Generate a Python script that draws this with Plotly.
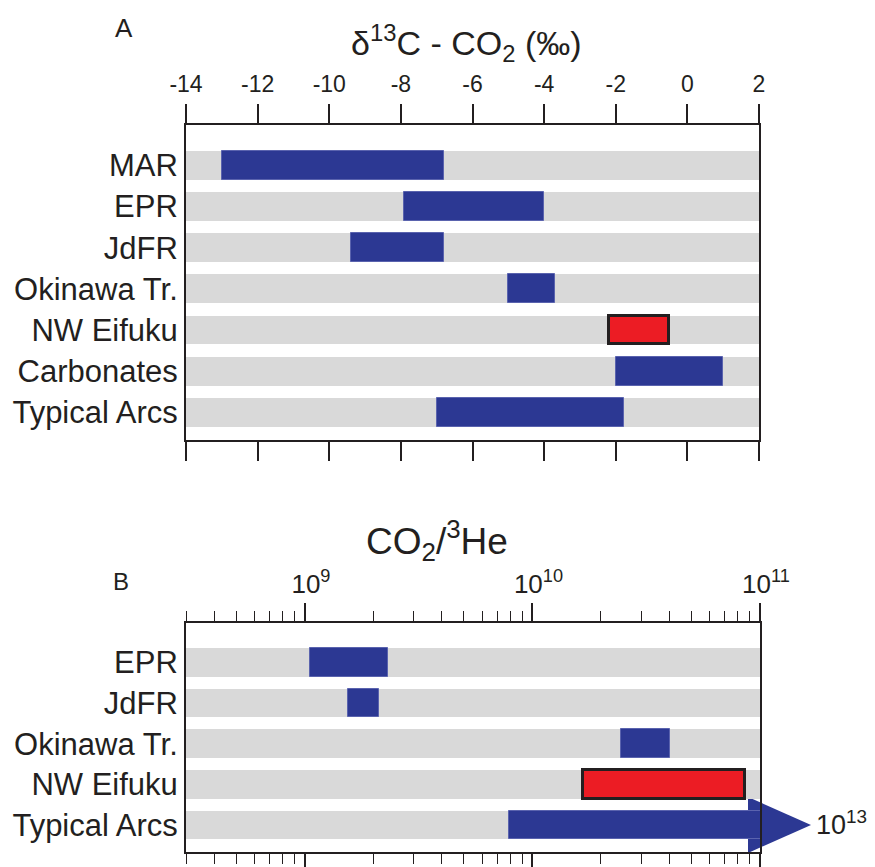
import plotly.graph_objects as go
import math

# ---------------- data ----------------
cats_a = ["MAR", "EPR", "JdFR", "Okinawa Tr.", "NW Eifuku", "Carbonates", "Typical Arcs"]
d13c_low = [-13.0, -7.9, -9.4, -5.0, -2.18, -2.0, -7.0]
d13c_high = [-6.8, -4.0, -6.8, -3.7, -0.52, 1.0, -1.77]
highlight_a = "NW Eifuku"

cats_b = ["EPR", "JdFR", "Okinawa Tr.", "NW Eifuku", "Typical Arcs"]
ratio_low = [1.05e9, 1.54e9, 2.46e10, 1.67e10, 7.85e9]
ratio_high = [2.31e9, 2.12e9, 4.04e10, 8.6e10, 1e13]
highlight_b = "NW Eifuku"
arrow_label = "10<sup>13</sup>"

xa_range = [-14, 2]
xa_ticks = [-14, -12, -10, -8, -6, -4, -2, 0, 2]
xa_ticktext = ["-14", "-12", "-10", "-8", "-6", "-4", "-2", "0", "2"]
xb_range = [3e8, 1e11]
xb_ticks = [1e9, 1e10, 1e11]
xb_ticktext = ["10<sup>9</sup>", "10<sup>10</sup>", "10<sup>11</sup>"]
xb_minor = [m * 10 ** e for e in (8, 9, 10) for m in range(2, 10) if 3e8 <= m * 10 ** e < 1e11]

# ---------------- style ----------------
W, H = 875, 867
GRAY = "#D9D9D9"
BLUE = "#2C3893"
RED = "#EC1C24"
INK = "#231F20"
FONT = "Liberation Sans, Arial, sans-serif"

def fx(p):
    return p / W

def fy(p):
    return 1 - p / H

# pixel frames of the two panels
A_L, A_R, A_T, A_B = 186, 759, 125, 440
B_L, B_R, B_T, B_B = 186, 760, 623, 852
ya_range = [6.67, -0.98]
yb_range = [4.665, -0.97]

fig = go.Figure()

# ---- panel A ----
ia = list(range(len(cats_a)))
fig.add_trace(go.Bar(orientation="h", y=ia, base=[xa_range[0]] * len(ia),
                     x=[xa_range[1] - xa_range[0]] * len(ia), width=0.70,
                     marker=dict(color=GRAY, line=dict(width=0)),
                     xaxis="x", yaxis="y", hoverinfo="skip", showlegend=False))
nb = [i for i, c in enumerate(cats_a) if c != highlight_a]
fig.add_trace(go.Bar(orientation="h", y=nb, base=[d13c_low[i] for i in nb],
                     x=[d13c_high[i] - d13c_low[i] for i in nb], width=0.70,
                     marker=dict(color=BLUE, line=dict(width=1, color="#5A63AE")),
                     xaxis="x", yaxis="y", showlegend=False))
hb = [i for i, c in enumerate(cats_a) if c == highlight_a]
fig.add_trace(go.Bar(orientation="h", y=hb, base=[d13c_low[i] for i in hb],
                     x=[d13c_high[i] - d13c_low[i] for i in hb], width=0.70,
                     marker=dict(color=RED, line=dict(width=3, color=INK)),
                     xaxis="x", yaxis="y", showlegend=False))

# ---- panel B ----
ib = list(range(len(cats_b)))
fig.add_trace(go.Bar(orientation="h", y=ib, base=[xb_range[0]] * len(ib),
                     x=[xb_range[1] - xb_range[0]] * len(ib), width=0.71,
                     marker=dict(color=GRAY, line=dict(width=0)),
                     xaxis="x2", yaxis="y2", hoverinfo="skip", showlegend=False))
nbb = [i for i, c in enumerate(cats_b) if c != highlight_b]
fig.add_trace(go.Bar(orientation="h", y=nbb, base=[ratio_low[i] for i in nbb],
                     x=[ratio_high[i] - ratio_low[i] for i in nbb], width=0.71,
                     marker=dict(color=BLUE, line=dict(width=1, color="#5A63AE")),
                     xaxis="x2", yaxis="y2", showlegend=False))
hbb = [i for i, c in enumerate(cats_b) if c == highlight_b]
fig.add_trace(go.Bar(orientation="h", y=hbb, base=[ratio_low[i] for i in hbb],
                     x=[ratio_high[i] - ratio_low[i] for i in hbb], width=0.71,
                     marker=dict(color=RED, line=dict(width=3, color=INK)),
                     xaxis="x2", yaxis="y2", showlegend=False))

axis_common = dict(showgrid=False, zeroline=False, showline=True, linecolor=INK,
                   automargin=False, tickcolor=INK,
                   tickfont=dict(family=FONT, size=22, color=INK))

fig.update_layout(
    width=W, height=H, autosize=False,
    margin=dict(l=0, r=0, t=0, b=0, pad=0, autoexpand=False),
    paper_bgcolor="white", plot_bgcolor="rgba(0,0,0,0)",
    barmode="overlay", bargap=0, showlegend=False,
    font=dict(family=FONT, color=INK),
    xaxis=dict(axis_common, domain=[fx(A_L), fx(A_R)], range=xa_range, anchor="y",
               side="top", tickmode="array", tickvals=xa_ticks, ticktext=xa_ticktext,
               ticks="outside", ticklen=19, tickwidth=1.5, linewidth=1.5, mirror="ticks",
               ticklabelstandoff=3,
               tickfont=dict(family=FONT, size=23, color=INK)),
    yaxis=dict(axis_common, domain=[fy(A_B), fy(A_T)], range=ya_range, anchor="x",
               tickmode="array", tickvals=ia, ticktext=cats_a, ticks="",
               linewidth=2, mirror=True,
               tickfont=dict(family=FONT, size=31, color=INK)),
    xaxis2=dict(axis_common, type="log", domain=[fx(B_L), fx(B_R)],
                range=[math.log10(xb_range[0]), math.log10(xb_range[1])], anchor="y2",
                side="top", tickmode="array", tickvals=xb_ticks, ticktext=xb_ticktext,
                ticks="outside", ticklen=18, tickwidth=1.5, linewidth=1.5, mirror="ticks",
                ticklabelshift=6,
                tickfont=dict(family=FONT, size=26, color=INK),
                minor=dict(tickmode="array", tickvals=xb_minor, ticks="outside",
                           ticklen=10, tickwidth=1.2, tickcolor=INK, showgrid=False)),
    yaxis2=dict(axis_common, domain=[fy(B_B), fy(B_T)], range=yb_range, anchor="x2",
                tickmode="array", tickvals=ib, ticktext=cats_b, ticks="",
                linewidth=2, mirror=True,
                tickfont=dict(family=FONT, size=31, color=INK)),
)

# arrow head for the open-ended "Typical Arcs" range (beyond the axis end)
row = cats_b.index("Typical Arcs")
yc = B_T + (row - yb_range[1]) / (yb_range[0] - yb_range[1]) * (B_B - B_T)
xb_end = B_R
head = [(xb_end - 12, yc - 28), (xb_end + 51, yc), (xb_end - 12, yc + 28)]
path = "M {} {} L {} {} L {} {} Z".format(*[v for p in head for v in (fx(p[0]), fy(p[1]))])
fig.add_shape(type="path", path=path, xref="paper", yref="paper",
              fillcolor=BLUE, line=dict(width=0), layer="below")

def label(x, y, text, size, xanchor="center"):
    fig.add_annotation(x=fx(x), y=fy(y), xref="paper", yref="paper", text=text,
                       showarrow=False, xanchor=xanchor, yanchor="middle",
                       font=dict(family=FONT, size=size, color=INK))

label(xb_end + 54, yc - 2, arrow_label, 27, xanchor="left")
label(124, 28, "A", 26)
label(466, 43, "δ<sup>13</sup>C - CO<sub>2</sub> (‰)", 34)
label(121, 581, "B", 24)
label(437, 540, "CO<sub>2</sub>/<sup>3</sup>He", 37)

fig.write_html("out.html", config={"displayModeBar": False},
               post_script="document.body.style.margin='0px';document.body.style.overflow='hidden';")
